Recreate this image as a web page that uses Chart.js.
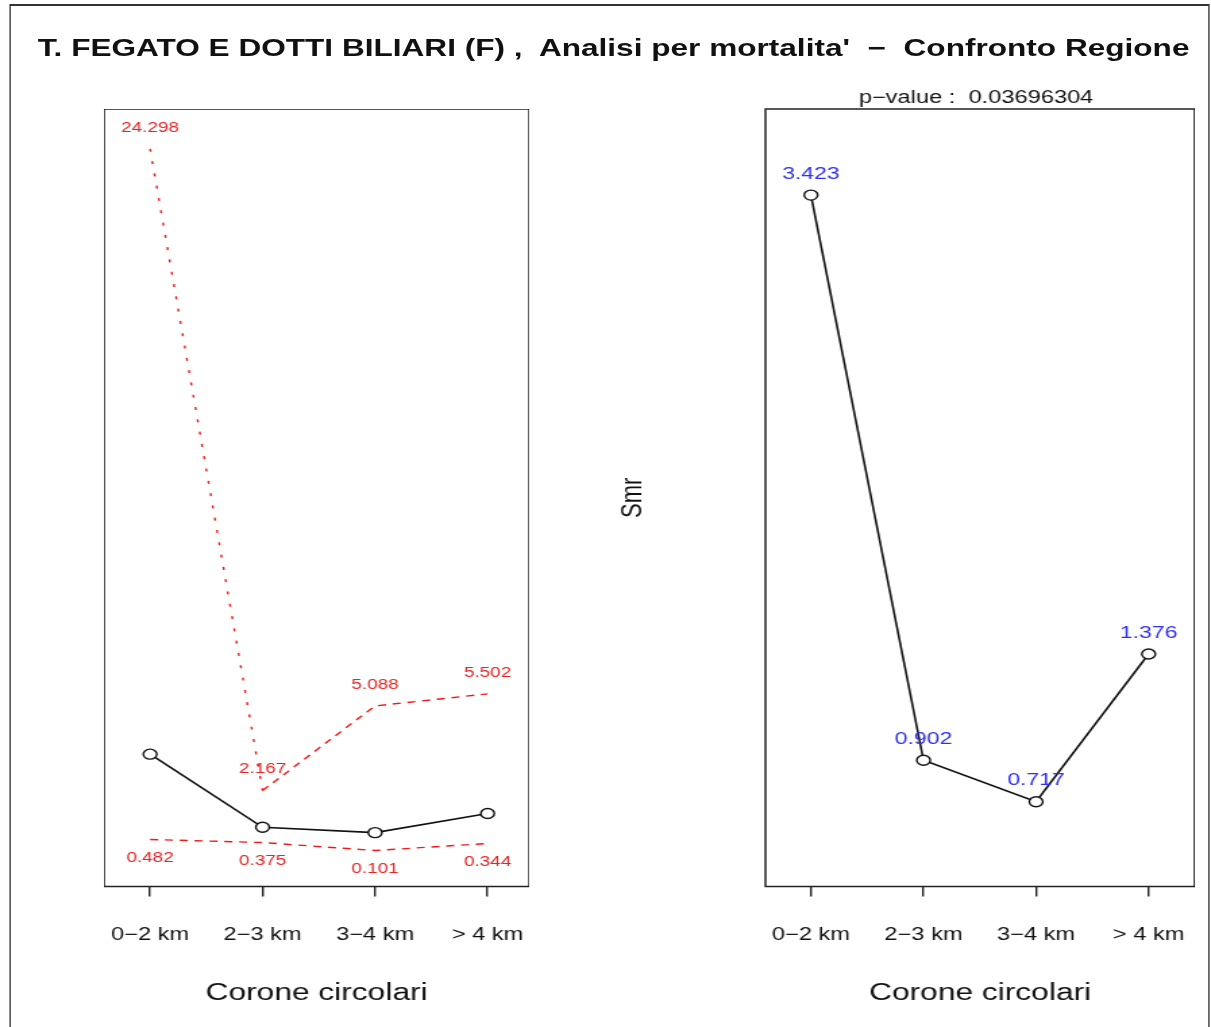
<!DOCTYPE html>
<html lang="it">
<head>
    <meta charset="UTF-8">
    <title>T. Fegato e dotti biliari (F) - Smr per corone circolari</title>
    <script src="https://cdn.jsdelivr.net/npm/chart.js"></script>
    <style>
        html, body { margin: 0; padding: 0; background: #fff; overflow: hidden; }
        /* the whole figure is drawn narrow and widened, like the reference */
        #page { position: absolute; left: 0; top: 0; width: 897px; height: 1027px;
                transform: scaleX(1.35); transform-origin: 0 0;
                font-family: "Liberation Sans", Arial, sans-serif; }
        #frame { position: absolute; left: 7.2px; top: 4px; width: 889px; height: 1040px;
                 border-style: solid; border-color: #333; border-width: 2px 1.5px; box-sizing: border-box; }
        #title { position: absolute; left: 28px; top: 34px; font-size: 23.4px; line-height: 28px;
                 font-weight: bold; color: #111; white-space: pre; }
        canvas { position: absolute; }
    </style>
</head>
<body>
    <div id="page">
        <div id="frame"></div>
        <div id="title">T. FEGATO E DOTTI BILIARI (F) ,  Analisi per mortalita'  −  Confronto Regione</div>
        <canvas id="leftChart" width="315" height="903" style="left:76.5px; top:109px;"></canvas>
        <canvas id="rightChart" width="445" height="932" style="left:440px; top:80px;"></canvas>
    </div>

    <script>
        const categories = ["0−2 km", "2−3 km", "3−4 km", "> 4 km"];
        const smr = [3.423, 0.902, 0.717, 1.376];
        const ciUpper = [24.298, 2.167, 5.088, 5.502];
        const ciLower = [0.482, 0.375, 0.101, 0.344];
        const pValueText = "p−value :  0.03696304";

        const FONT = '"Liberation Sans", Arial, sans-serif';

        function toPoints(values) {
            return values.map((v, i) => ({ x: i + 1, y: v }));
        }

        // steep segments look dotted, the flatter ones dashed
        const ciSegment = {
            borderDash: ctx => {
                let dx = Math.abs(ctx.p1.x - ctx.p0.x);
                let dy = Math.abs(ctx.p1.y - ctx.p0.y);
                return dy > 3 * dx ? [3, 9.4] : [6, 5];
            }
        };

        // box round the plot, value labels, text above the plot
        const extras = {
            id: 'extras',
            afterDatasetsDraw(chart, args, opts) {
                const ctx = chart.ctx;
                const a = chart.chartArea;
                ctx.save();
                ctx.strokeStyle = '#222';
                ctx.lineWidth = 1.5;
                ctx.strokeRect(a.left, a.top, a.right - a.left, a.bottom - a.top);
                ctx.textAlign = 'center';
                ctx.textBaseline = 'middle';
                chart.data.datasets.forEach((ds, i) => {
                    if (!ds.labelColor) return;
                    ctx.fillStyle = ds.labelColor;
                    ctx.font = ds.labelSize + 'px ' + FONT;
                    chart.getDatasetMeta(i).data.forEach((pt, j) => {
                        ctx.fillText(ds.data[j].y.toFixed(3), pt.x, pt.y + ds.labelDy);
                    });
                });
                if (opts.topText) {
                    ctx.fillStyle = '#111';
                    ctx.font = '17.5px ' + FONT;
                    ctx.fillText(opts.topText, (a.left + a.right) / 2 - 3, a.top - 11);
                }
                ctx.restore();
            }
        };

        function xScale(min, max) {
            return {
                type: 'linear',
                min: min,
                max: max,
                afterBuildTicks: s => { s.ticks = categories.map((c, i) => ({ value: i + 1 })); },
                afterFit: s => {
                    s.height = 125.5;
                    // labels fit inside the box already, no side padding wanted
                    s.paddingLeft = 0;
                    s.paddingRight = 0;
                },
                grid: { drawOnChartArea: false, drawTicks: true, tickLength: 10, color: '#222', lineWidth: 1.4 },
                border: { display: false },
                ticks: {
                    padding: 28, color: '#111', autoSkip: false, maxRotation: 0,
                    font: { size: 17.5, family: FONT },
                    callback: v => categories[v - 1]
                },
                title: {
                    display: true, text: 'Corone circolari', color: '#111',
                    font: { size: 23.5, family: FONT }, padding: { top: 0, bottom: 4.5 }
                }
            };
        }

        function smrDataset() {
            return {
                data: toPoints(smr),
                borderColor: '#111',
                borderWidth: 1.6,
                pointRadius: 5,
                pointBorderWidth: 1.4,
                pointBorderColor: '#111',
                pointBackgroundColor: '#fff'
            };
        }

        const baseOptions = {
            responsive: false,
            animation: false,
            events: [],
            plugins: { legend: { display: false }, tooltip: { enabled: false } }
        };

        // Left: Smr with confidence limits
        new Chart(document.getElementById('leftChart'), {
            type: 'line',
            data: {
                datasets: [
                    smrDataset(),
                    {
                        data: toPoints(ciUpper), borderColor: '#f01818', borderWidth: 1.4,
                        pointRadius: 0, segment: ciSegment,
                        labelColor: '#e62222', labelSize: 14, labelDy: -21
                    },
                    {
                        data: toPoints(ciLower), borderColor: '#f01818', borderWidth: 1.4,
                        pointRadius: 0, segment: ciSegment,
                        labelColor: '#e62222', labelSize: 14, labelDy: 19
                    }
                ]
            },
            options: Object.assign({}, baseOptions, {
                layout: { padding: 0, autoPadding: false },
                scales: {
                    x: xScale(0.59, 4.37),
                    y: { type: 'linear', display: false, min: -1.14, max: 25.67 }
                }
            }),
            plugins: [extras]
        });

        // Right: Smr only, with p-value
        new Chart(document.getElementById('rightChart'), {
            type: 'line',
            data: {
                datasets: [
                    Object.assign(smrDataset(), { labelColor: '#2f2ff0', labelSize: 17, labelDy: -21 })
                ]
            },
            options: Object.assign({}, baseOptions, {
                layout: { padding: { top: 29, left: 0, right: 0, bottom: 0 }, autoPadding: false },
                plugins: {
                    legend: { display: false }, tooltip: { enabled: false },
                    extras: { topText: pValueText }
                },
                scales: {
                    x: xScale(0.596, 4.41),
                    y: {
                        type: 'linear', min: 0.339, max: 3.807,
                        ticks: { display: false },
                        grid: { display: false },
                        border: { display: false },
                        title: {
                            display: true, text: 'Smr', color: '#111',
                            font: { size: 22, family: FONT }, padding: { top: 15.7, bottom: 0 }
                        },
                        afterFit: s => { s.width = 127; }
                    }
                }
            }),
            plugins: [extras]
        });
    </script>
</body>
</html>
